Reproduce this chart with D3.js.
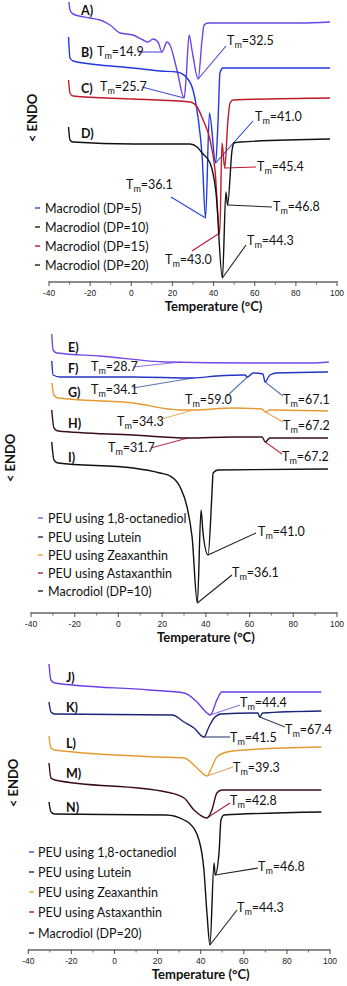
<!DOCTYPE html>
<html>
<head>
<meta charset="utf-8">
<script src="https://cdn.jsdelivr.net/npm/d3@7"></script>
<style>
  body { margin: 0; background: #fff; }
  svg { display: block; }
  .lbl { font-family: Lato, "Open Sans", sans-serif; font-size: 12.5px; fill: #111; }
  .panel { font-family: Lato, sans-serif; font-size: 12.5px; font-weight: bold; fill: #111; }
  .tick { font-family: "Liberation Sans", Arial, sans-serif; font-size: 8.5px; fill: #222; }
  .title { font-family: Lato, sans-serif; font-size: 13px; font-weight: bold; fill: #111; }
</style>
</head>
<body>
<div id="chart"></div>
<script>
// x ticks (temperature, deg C)
var tickValues = [-40, -20, 0, 20, 40, 60, 80, 100];
var minorValues = [-30, -10, 10, 30, 50, 70, 90];

// DSC traces, [temperature, heat flow (a.u., offset)]
// panel 1 : macrodiols
var curveA = [[-30.3,280],[-29.8,272],[-28.3,268],[-20.1,264],[-15.2,262],[-10.3,257],[-5.5,249],[0.8,247],
  [5.7,242],[8.1,240],[10.6,243],[13.0,240],[14.9,230],[17.4,240],[18.8,237],[22.2,212],[25.7,184],[26.6,202],
  [28.1,247],[29.5,232],[32.5,203],[34.4,242],[35.4,257],[37.3,259],[82,259],[96.6,260]];
var curveB = [[-30.5,245],[-29.8,224],[-28.3,221],[-15.2,217],[0.8,214],[14.0,211],[22.2,210],[27.1,204],
  [30.0,192],[32.4,165],[34.4,127],[36.1,64],[38.0,169],[41.0,119],[42.2,162],[43.1,209],[44.6,214],[96.6,214]];
var curveC = [[-30.5,202],[-29.8,189],[-28.3,186],[0.8,183],[28.5,180],[32.0,175],[34.9,162],[38.3,142],
  [40.7,112],[43.0,49],[44.1,139],[45.4,114],[47.0,162],[48.0,179],[49.4,182],[96.6,184]];
var curveD = [[-30.5,155],[-29.8,142],[-28.3,140],[0.8,138],[28.5,138],[32.0,135],[34.4,129],[38.3,119],
  [41.2,89],[44.3,4],[46.0,90],[46.8,77],[49.0,132],[49.9,139],[52.9,140],[96.6,143]];

// panel 2 : PEUs vs macrodiol DP=10
var curveE = [[-30.5,279],[-29.9,263],[-28.1,260],[-8.4,257],[22.2,251],[60.2,250],[87.6,250],[96.3,251]];
var curveF = [[-30.5,252],[-29.9,238],[-26.7,236],[6.7,236],[34.1,235],[45.1,237],[57.9,238],[59.0,236],
  [61.6,240],[66.1,239],[67.1,231],[69.3,238],[72.5,240],[95.9,241]];
var curveG = [[-30.5,230],[-29.5,218],[-27.6,215],[6.7,210],[28.2,203],[34.3,203],[52.4,205],[65.7,204],
  [67.2,201],[69.3,203],[95.9,202]];
var curveH = [[-30.5,203],[-29.5,185],[-27.6,182],[6.7,178],[31.7,175],[52.4,176],[65.7,176],[67.2,171],
  [69.3,175],[95.9,175]];
var curveI = [[-30.5,171],[-29.5,153],[-27.6,150],[6.7,145],[19.0,140],[23.6,137],[28.2,126],[31.4,106],
  [33.7,76],[36.1,10],[37.8,103],[38.7,80],[41.0,58],[42.8,120],[43.3,140],[45.5,143],[95.9,144]];

// panel 3 : PEUs vs macrodiol DP=20
var curveJ = [[-30.4,286],[-29.5,270],[-27.7,267],[16.2,260],[32.3,257],[38.3,248],[42.9,237],[44.4,235],
  [47.5,250],[49.8,258],[96.0,258]];
var curveK = [[-30.4,248],[-29.5,238],[-27.7,236],[26.8,235],[32.3,228],[36.9,222],[41.5,213],[43.8,223],
  [46.2,232],[49.4,236],[64.6,237],[66.5,237],[67.4,233],[68.8,237],[96.0,239]];
var curveL = [[-30.4,214],[-29.5,202],[-27.7,200],[20.8,193],[32.3,192],[38.3,182],[42.9,174],[45.2,183],
  [47.5,193],[52.2,198],[60.0,200],[96.0,203]];
var curveM = [[-30.4,187],[-29.5,172],[-27.7,170],[24.0,158],[32.3,152],[36.9,140],[42.9,132],[45.2,140],
  [47.5,157],[49.8,160],[60.0,160],[96.0,160]];
var curveN = [[-30.4,148],[-29.5,138],[-27.7,136],[24.0,135],[32.3,130],[34.6,127],[39.2,110],[41.5,80],
  [42.9,37],[44.3,5],[46.2,87],[46.7,75],[48.5,97],[49.4,130],[50.8,135],[96.0,138]];

var names1 = ["Macrodiol (DP=5)", "Macrodiol (DP=10)", "Macrodiol (DP=15)", "Macrodiol (DP=20)"];
var names2 = ["PEU using 1,8-octanediol", "PEU using Lutein", "PEU using Zeaxanthin", "PEU using Astaxanthin", "Macrodiol (DP=10)"];
var names3 = ["PEU using 1,8-octanediol", "PEU using Lutein", "PEU using Zeaxanthin", "PEU using Astaxanthin", "Macrodiol (DP=20)"];

var letters1 = ["A)", "B)", "C)", "D)"];
var letters2 = ["E)", "F)", "G)", "H)", "I)"];
var letters3 = ["J)", "K)", "L)", "M)", "N)"];

// melting points: [label, T, signal]
var peaks1 = [["14.9",14.9,230],["32.5",32.5,203],["25.7",25.7,184],["41.0",41.0,119],["45.4",45.4,114],
  ["36.1",36.1,64],["46.8",46.8,77],["44.3",44.3,4],["43.0",43.0,49]];
var peaks2 = [["28.7",28.7,251],["34.1",34.1,235],["59.0",59.0,236],["67.1",67.1,231],["34.3",34.3,203],
  ["67.2",67.2,201],["31.7",31.7,175],["67.2",67.2,171],["41.0",41.0,58],["36.1",36.1,10]];
var peaks3 = [["44.4",44.4,235],["67.4",67.4,233],["41.5",41.5,213],["39.3",42.9,174],["42.8",42.9,132],
  ["46.8",46.7,75],["44.3",44.3,5]];

var svg = d3.select("#chart").append("svg")
  .attr("width", 347)
  .attr("height", 986);

var panels = [
  {
    x0: 49, x1: 337, axisY: 282,
    curves: [curveA, curveB, curveC, curveD],
    colors: ["#6a45e6", "#2238e0", "#c2182a", "#111111"],
    letters: letters1, letterX: 81, letterY: [10, 52, 88, 133],
    names: names1, legendColors: ["#2a44d8", "#222222", "#c01830", "#222222"],
    legX: 35, legTextX: 45, legY: [208, 227, 246, 265],
    endo: [33, 118],
    peaks: peaks1,
    // label x, label centre y, leader start x, leader start y, colour
    notes: [[97,52,138,52,"#5a48e0"],[227,41,226,46,"#4a44e0"],[100,87,142,87,"#4a4ae0"],[255,117,253,121,"#2a44d8"],
      [257,167,256,167,"#c01830"],[126,185,171,197,"#2a44d8"],[273,207,272,207,"#222"],[247,241,246,245,"#222"],
      [165,260,192,251,"#c01830"]]
  },
  {
    x0: 31, x1: 337, axisY: 613,
    curves: [curveE, curveF, curveG, curveH, curveI],
    colors: ["#7448e8", "#2434c4", "#e49a30", "#3a0c1c", "#111111"],
    letters: letters2, letterX: 68, letterY: [347, 368, 392, 423, 457],
    names: names2, legendColors: ["#7a5ad8", "#203050", "#f0a040", "#a02050", "#222222"],
    legX: 38, legTextX: 48, legY: [518, 537, 555, 573, 591],
    endo: [11, 458],
    peaks: peaks2,
    notes: [[91,367,133,367,"#9a70e0"],[91,390,133,388,"#5a78b0"],[185,400,227,396,"#5a78b0"],[283,400,283,396,"#5a78b0"],
      [117,422,158,420,"#e8b060"],[283,426,283,422,"#e8a050"],[108,448,151,448,"#c03050"],[282,457,282,454,"#c03050"],
      [258,532,256,533,"#222"],[232,573,232,575,"#222"]]
  },
  {
    x0: 28.3, x1: 330, axisY: 950,
    curves: [curveJ, curveK, curveL, curveM, curveN],
    colors: ["#6a3fe6", "#1c2478", "#e49a30", "#3a0c1c", "#111111"],
    letters: letters3, letterX: 66, letterY: [677, 707, 743, 773, 807],
    names: names3, legendColors: ["#6040c0", "#202040", "#f0a040", "#b02030", "#222222"],
    legX: 29, legTextX: 38, legY: [852, 872, 892, 912, 933],
    endo: [14, 783],
    peaks: peaks3,
    notes: [[240,703,240,705,"#8a78e0"],[285,730,285,727,"#304060"],[230,738,230,737,"#304070"],[233,768,233,767,"#dca868"],
      [230,801,230,803,"#a82040"],[258,867,258,868,"#222"],[237,908,237,910,"#222"]]
  }
];

panels.forEach(function(p) {
  var x = d3.scaleLinear().domain([-40, 100]).range([p.x0, p.x1]);
  var y = d3.scaleLinear().domain([0, 300]).range([p.axisY, p.axisY - 300]);
  var g = svg.append("g");

  var line = d3.line()
    .x(function(d) { return x(d[0]); })
    .y(function(d) { return y(d[1]); })
    .curve(d3.curveMonotoneX);

  // leader lines first, under the traces
  p.peaks.forEach(function(pk, i) {
    var n = p.notes[i];
    g.append("line")
      .attr("x1", n[2]).attr("y1", n[3])
      .attr("x2", x(pk[1])).attr("y2", y(pk[2]))
      .attr("stroke", n[4])
      .attr("stroke-width", 1.1);
  });

  g.selectAll("path.trace")
    .data(p.curves)
    .enter()
    .append("path")
    .attr("class", "trace")
    .attr("fill", "none")
    .attr("stroke", function(d, i) { return p.colors[i]; })
    .attr("stroke-width", 1.4)
    .attr("d", line);

  // Tm labels
  p.peaks.forEach(function(pk, i) {
    var n = p.notes[i];
    var t = g.append("text")
      .attr("class", "lbl")
      .attr("x", n[0])
      .attr("y", n[1] + 4);
    t.append("tspan").text("T");
    t.append("tspan").attr("dy", 3).attr("font-size", "9px").text("m");
    t.append("tspan").attr("dy", -3).text("=" + pk[0]);
  });

  // panel letters
  g.selectAll("text.panel")
    .data(p.letters)
    .enter()
    .append("text")
    .attr("class", "panel")
    .attr("x", p.letterX)
    .attr("y", function(d, i) { return p.letterY[i] + 4.5; })
    .text(function(d) { return d; });

  // legend
  p.names.forEach(function(name, i) {
    g.append("line")
      .attr("x1", p.legX).attr("x2", p.legX + 5)
      .attr("y1", p.legY[i]).attr("y2", p.legY[i])
      .attr("stroke", p.legendColors[i])
      .attr("stroke-width", 1.4);
    g.append("text")
      .attr("class", "lbl")
      .attr("x", p.legTextX)
      .attr("y", p.legY[i] + 4.5)
      .text(name);
  });

  // x axis
  g.append("line")
    .attr("x1", x(-40)).attr("x2", x(100))
    .attr("y1", p.axisY).attr("y2", p.axisY)
    .attr("stroke", "#666").attr("stroke-width", 1.5);
  g.selectAll("line.major")
    .data(tickValues)
    .enter()
    .append("line")
    .attr("class", "major")
    .attr("x1", function(d) { return x(d); }).attr("x2", function(d) { return x(d); })
    .attr("y1", p.axisY - 1).attr("y2", p.axisY + 4)
    .attr("stroke", "#666").attr("stroke-width", 1.2);
  g.selectAll("line.minor")
    .data(minorValues)
    .enter()
    .append("line")
    .attr("class", "minor")
    .attr("x1", function(d) { return x(d); }).attr("x2", function(d) { return x(d); })
    .attr("y1", p.axisY).attr("y2", p.axisY + 2.5)
    .attr("stroke", "#666").attr("stroke-width", 1);
  g.selectAll("text.tick")
    .data(tickValues)
    .enter()
    .append("text")
    .attr("class", "tick")
    .attr("x", function(d) { return x(d); })
    .attr("y", p.axisY + 14)
    .attr("text-anchor", "middle")
    .text(function(d) { return d; });

  g.append("text")
    .attr("class", "title")
    .attr("x", x(40))
    .attr("y", p.axisY + 29)
    .attr("text-anchor", "middle")
    .text("Temperature (°C)");

  g.append("text")
    .attr("class", "title")
    .attr("font-size", "12px")
    .attr("transform", "translate(" + (p.endo[0] + 4) + "," + p.endo[1] + ") rotate(-90)")
    .attr("text-anchor", "middle")
    .text("< ENDO");
});
</script>
</body>
</html>
